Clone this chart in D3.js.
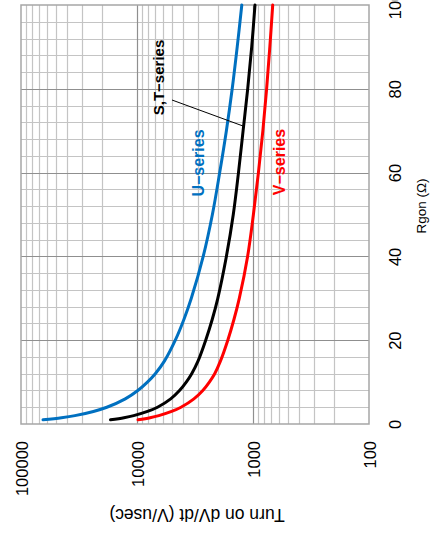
<!DOCTYPE html>
<html>
<head>
<meta charset="utf-8">
<script src="https://cdn.jsdelivr.net/npm/d3@7"></script>
<style>
  html, body { margin: 0; padding: 0; background: #fff; }
  svg { display: block; font-family: "Liberation Sans", Arial, sans-serif; }
</style>
</head>
<body>
<svg id="chart" width="431" height="538"></svg>
<script>
// ---- data ----
const rgon = [1, 1.5, 2, 3, 4, 6, 8, 10, 12, 15, 20, 25, 30, 40, 50, 60, 70, 80, 90, 100];
const uSeries = [64600, 44750, 34300, 23760, 18200, 12620, 9840, 8135, 6955, 5805, 4675, 3934, 3403, 2687, 2239, 1937, 1696, 1511, 1368, 1249];
const stSeries = [16920, 12945, 10680, 8120, 6658, 5124, 4301, 3762, 3376, 2980, 2557, 2244, 2011, 1696, 1479, 1334, 1217, 1111, 1026, 961];
const vSeries = [9804, 7711, 6489, 5031, 4175, 3232, 2709, 2378, 2139, 1910, 1649, 1458, 1313, 1113, 992, 898, 822, 763, 716, 676];
const rgonTicks = [0, 20, 40, 60, 80, 100];
const dvdtTicks = [100000, 10000, 1000, 100];
const seriesNames = ["U\u2212series", "S,T\u2212series", "V\u2212series"];

// ---- layout (chart is drawn rotated 90° counter-clockwise) ----
const pLeft = 21, pRight = 369, pTop = 5, pBottom = 424;
const svg = d3.select("#chart");

const rScale = d3.scaleLinear().domain([0, 100]).range([pBottom, pTop]);     // Rgon -> screen y
const vScale = d3.scaleLog().domain([100000, 100]).range([pLeft, pRight]);  // dV/dt -> screen x

// grid
const grid = svg.append("g");
const rMinor = d3.range(4, 100, 4).filter(d => d % 20 !== 0);
const rMajor = [20, 40, 60, 80];
const vMinor = [];
[100, 1000, 10000].forEach(dec => { for (let k = 2; k <= 9; k++) vMinor.push(dec * k); });
const vMajor = [1000, 10000];

grid.selectAll(".rmin").data(rMinor).join("line").attr("class", "rmin")
  .attr("x1", pLeft).attr("x2", pRight)
  .attr("y1", d => Math.round(rScale(d)) + 0.5).attr("y2", d => Math.round(rScale(d)) + 0.5)
  .attr("stroke", "#c4c4c4").attr("stroke-width", 1.2);
grid.selectAll(".vmin").data(vMinor).join("line").attr("class", "vmin")
  .attr("y1", pTop).attr("y2", pBottom)
  .attr("x1", d => Math.round(vScale(d)) + 0.5).attr("x2", d => Math.round(vScale(d)) + 0.5)
  .attr("stroke", "#c4c4c4").attr("stroke-width", 1.2);
grid.selectAll(".rmaj").data(rMajor).join("line").attr("class", "rmaj")
  .attr("x1", pLeft).attr("x2", pRight)
  .attr("y1", d => Math.round(rScale(d)) + 0.5).attr("y2", d => Math.round(rScale(d)) + 0.5)
  .attr("stroke", "#8f8f8f").attr("stroke-width", 1.2);
grid.selectAll(".vmaj").data(vMajor).join("line").attr("class", "vmaj")
  .attr("y1", pTop).attr("y2", pBottom)
  .attr("x1", d => Math.round(vScale(d)) + 0.5).attr("x2", d => Math.round(vScale(d)) + 0.5)
  .attr("stroke", "#8f8f8f").attr("stroke-width", 1.2);

// frame
svg.append("rect")
  .attr("x", pLeft).attr("y", pTop).attr("width", pRight - pLeft).attr("height", pBottom - pTop)
  .attr("fill", "none").attr("stroke", "#a6a6a6").attr("stroke-width", 1.5);

// axes
const rAxis = svg.append("g").attr("transform", `translate(${pRight},0)`)
  .call(d3.axisRight(rScale).tickValues(rgonTicks).tickSize(0).tickFormat(d3.format("d")));
rAxis.select(".domain").remove();
rAxis.selectAll("text")
  .attr("x", null).attr("dy", null)
  .attr("transform", "translate(26,0) rotate(-90)")
  .attr("text-anchor", "middle").attr("dominant-baseline", "central")
  .attr("font-size", 16.5).attr("fill", "#000").attr("font-family", "Liberation Sans, Arial, sans-serif");

const vAxis = svg.append("g").attr("transform", `translate(0,${pBottom})`)
  .call(d3.axisBottom(vScale).tickValues(dvdtTicks).tickSize(0).tickFormat(d3.format("d")));
vAxis.select(".domain").remove();
vAxis.selectAll("text")
  .attr("y", null).attr("dy", null)
  .attr("transform", "translate(0,17) rotate(-90)")
  .attr("text-anchor", "end").attr("dominant-baseline", "central")
  .attr("font-size", 16.5).attr("fill", "#000").attr("font-family", "Liberation Sans, Arial, sans-serif");

// axis titles
svg.append("text")
  .attr("transform", "translate(197,515) rotate(180)")
  .attr("text-anchor", "middle").attr("dominant-baseline", "central")
  .attr("font-size", 17.5).text("Turn on dV/dt (V/usec)");
svg.append("text")
  .attr("transform", "translate(421,206) rotate(-90)")
  .attr("text-anchor", "middle").attr("dominant-baseline", "central")
  .attr("font-size", 13.5).text("Rgon (\u03A9)");

// curves
const line = d3.line()
  .x(d => vScale(d[1]))
  .y(d => rScale(d[0]))
  .curve(d3.curveCatmullRom.alpha(0.5));

const series = [
  { vals: uSeries, color: "#0070C0" },
  { vals: stSeries, color: "#000000" },
  { vals: vSeries, color: "#FF0000" }
];
svg.append("g").selectAll("path").data(series).join("path")
  .attr("d", s => line(rgon.map((r, i) => [r, s.vals[i]])))
  .attr("fill", "none").attr("stroke", s => s.color).attr("stroke-width", 3)
  .attr("stroke-linecap", "round");

// annotation line for S,T-series
svg.append("line")
  .attr("x1", 172).attr("y1", 100).attr("x2", 243).attr("y2", 126)
  .attr("stroke", "#000").attr("stroke-width", 1);

// series labels
const labels = [
  { text: seriesNames[1], x: 158.5, y: 77.5, color: "#000000", size: 15 },
  { text: seriesNames[0], x: 198.5, y: 163, color: "#0070C0", size: 16 },
  { text: seriesNames[2], x: 279, y: 162, color: "#FF0000", size: 16 }
];
svg.append("g").selectAll("text").data(labels).join("text")
  .attr("transform", d => `translate(${d.x},${d.y}) rotate(-90)`)
  .attr("text-anchor", "middle").attr("dominant-baseline", "central")
  .attr("font-weight", "bold").attr("font-size", d => d.size)
  .attr("fill", d => d.color).text(d => d.text);
</script>
</body>
</html>
